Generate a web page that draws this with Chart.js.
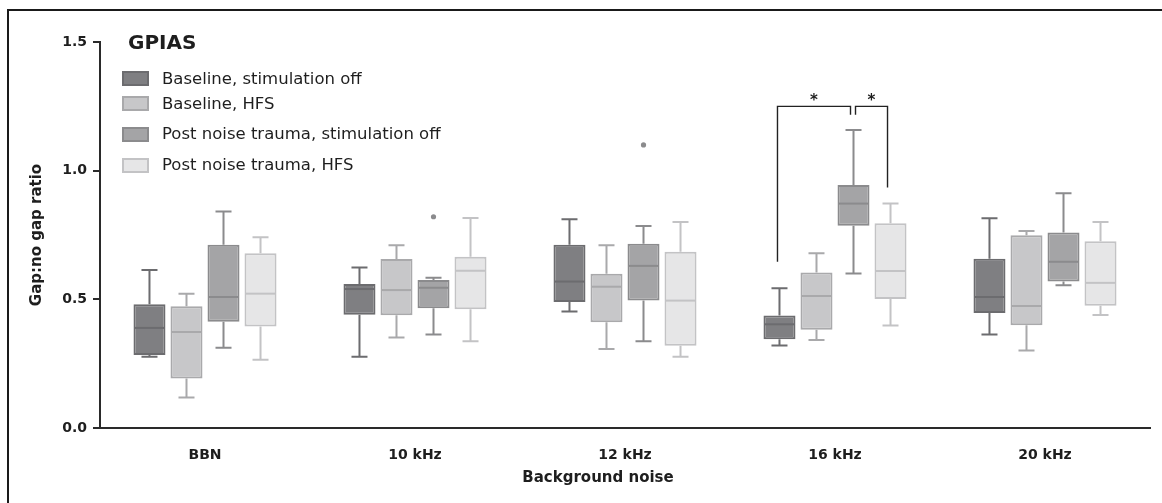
<!DOCTYPE html>
<html>
<head>
<meta charset="utf-8">
<script src="https://cdn.jsdelivr.net/npm/chart.js@4.4.0/dist/chart.umd.min.js"></script>
<style>
body { margin: 0; background: #fff; }
#wrap { position: relative; width: 1162px; height: 503px; overflow: hidden; font-family: "DejaVu Sans", sans-serif; color: #1e1e1e; }
#frame { position: absolute; left: 7px; top: 9px; width: 1200px; height: 600px; border-top: 2px solid #1a1a1a; border-left: 2px solid #1a1a1a; }
canvas { position: absolute; left: 0; top: 0; }
.ttl { position: absolute; left: 128px; top: 30px; font-size: 20px; font-weight: bold; line-height: 24px; }
.row { position: absolute; left: 122px; height: 20px; display: flex; align-items: center; font-size: 16.5px; line-height: 20px; white-space: nowrap; }
.sw { width: 23px; height: 11px; border: 2px solid; margin-right: 13px; }
#xt { position: absolute; left: 598px; top: 468px; transform: translateX(-50%); font-size: 15px; font-weight: bold; line-height: 18px; white-space: nowrap; }
</style>
</head>
<body>
<div id="wrap">
  <div id="frame"></div>
  <canvas id="chart" width="1162" height="503"></canvas>
  <div class="ttl">GPIAS</div>
  <div id="legend"></div>
  <div id="xt">Background noise</div>
</div>
<script>
// categories + series
var categories = ['BBN', '10 kHz', '12 kHz', '16 kHz', '20 kHz'];
var seriesNames = ['Baseline, stimulation off', 'Baseline, HFS', 'Post noise trauma, stimulation off', 'Post noise trauma, HFS'];
var fills = ['#7f7f82', '#c7c7c9', '#a4a4a6', '#e6e6e7'];
var lines = ['#6c6c6f', '#a9a9ab', '#8b8b8d', '#c3c3c5'];
var yTicks = [0, 0.5, 1.0, 1.5];

// one row per series, one value per category
var lowWhisker = [
  [0.277, 0.277, 0.453, 0.321, 0.363],
  [0.119, 0.352, 0.307, 0.342, 0.301],
  [0.312, 0.363, 0.337, 0.600, 0.555],
  [0.265, 0.337, 0.277, 0.398, 0.439]
];
var q1 = [
  [0.284, 0.440, 0.490, 0.345, 0.447],
  [0.192, 0.438, 0.411, 0.382, 0.399],
  [0.413, 0.465, 0.495, 0.786, 0.569],
  [0.394, 0.461, 0.320, 0.501, 0.475]
];
var median = [
  [0.389, 0.540, 0.569, 0.403, 0.509],
  [0.373, 0.536, 0.549, 0.513, 0.474],
  [0.509, 0.545, 0.630, 0.872, 0.646],
  [0.522, 0.611, 0.495, 0.610, 0.564]
];
var q3 = [
  [0.481, 0.560, 0.712, 0.437, 0.658],
  [0.473, 0.657, 0.599, 0.604, 0.749],
  [0.712, 0.575, 0.716, 0.944, 0.760],
  [0.679, 0.665, 0.685, 0.796, 0.726]
];
var highWhisker = [
  [0.614, 0.624, 0.811, 0.543, 0.815],
  [0.522, 0.710, 0.710, 0.679, 0.766],
  [0.841, 0.584, 0.785, 1.158, 0.912],
  [0.741, 0.816, 0.801, 0.872, 0.801]
];
// [series, category, value]
var outliers = [[2, 1, 0.821], [2, 2, 1.10]];
// significance at 16 kHz: series 0 vs 2 and 2 vs 3
var sigCategory = 3;
var sigBracketTop = 1.25, sigLegEnd = 1.217, sigLeftFoot = 0.646, sigRightFoot = 0.935;

// legend (html)
var leg = document.getElementById('legend');
var rowTops = [68.5, 93.5, 124, 155];
for (var s = 0; s < seriesNames.length; s++) {
  var r = document.createElement('div');
  r.className = 'row';
  r.style.top = rowTops[s] + 'px';
  r.innerHTML = '<div class="sw" style="background:' + fills[s] + ';border-color:' + lines[s] + '"></div>' + seriesNames[s];
  leg.appendChild(r);
}

var datasets = [];
for (var d = 0; d < seriesNames.length; d++) {
  var pairs = [];
  for (var c = 0; c < categories.length; c++) pairs.push([q1[d][c], q3[d][c]]);
  datasets.push({
    label: seriesNames[d],
    data: pairs,
    backgroundColor: fills[d],
    borderColor: lines[d],
    borderWidth: 2,
    borderSkipped: false,
    categoryPercentage: 0.705,
    barPercentage: 0.865
  });
}

var boxPlugin = {
  id: 'boxes',
  beforeDatasetsDraw: function (chart) {
    var ctx = chart.ctx, y = chart.scales.y;
    ctx.save();
    ctx.lineWidth = 2;
    for (var d = 0; d < datasets.length; d++) {
      var bars = chart.getDatasetMeta(d).data;
      ctx.strokeStyle = lines[d];
      for (var c = 0; c < bars.length; c++) {
        var x = bars[c].x, w = bars[c].width;
        ctx.beginPath();
        ctx.moveTo(x, y.getPixelForValue(highWhisker[d][c]));
        ctx.lineTo(x, y.getPixelForValue(q3[d][c]));
        ctx.moveTo(x, y.getPixelForValue(q1[d][c]));
        ctx.lineTo(x, y.getPixelForValue(lowWhisker[d][c]));
        ctx.moveTo(x - w / 4, y.getPixelForValue(highWhisker[d][c]));
        ctx.lineTo(x + w / 4, y.getPixelForValue(highWhisker[d][c]));
        ctx.moveTo(x - w / 4, y.getPixelForValue(lowWhisker[d][c]));
        ctx.lineTo(x + w / 4, y.getPixelForValue(lowWhisker[d][c]));
        ctx.stroke();
      }
    }
    ctx.restore();
  },
  afterDatasetsDraw: function (chart) {
    var ctx = chart.ctx, y = chart.scales.y;
    ctx.save();
    ctx.lineWidth = 2;
    for (var d = 0; d < datasets.length; d++) {
      var bars = chart.getDatasetMeta(d).data;
      ctx.strokeStyle = lines[d];
      for (var c = 0; c < bars.length; c++) {
        var x = bars[c].x, w = bars[c].width, my = y.getPixelForValue(median[d][c]);
        ctx.beginPath();
        ctx.moveTo(x - w / 2 + 1, my);
        ctx.lineTo(x + w / 2 - 1, my);
        ctx.stroke();
      }
    }
    outliers.forEach(function (o) {
      var b = chart.getDatasetMeta(o[0]).data[o[1]];
      ctx.fillStyle = lines[o[0]];
      ctx.beginPath();
      ctx.arc(b.x, y.getPixelForValue(o[2]), 2.6, 0, Math.PI * 2);
      ctx.fill();
    });

    // brackets + stars
    var xa = chart.getDatasetMeta(0).data[sigCategory].x - 2;
    var xb = chart.getDatasetMeta(2).data[sigCategory].x;
    var xc = chart.getDatasetMeta(3).data[sigCategory].x - 3;
    var top = y.getPixelForValue(sigBracketTop), leg = y.getPixelForValue(sigLegEnd);
    ctx.strokeStyle = '#222';
    ctx.lineWidth = 1.4;
    ctx.beginPath();
    ctx.moveTo(xa, y.getPixelForValue(sigLeftFoot));
    ctx.lineTo(xa, top); ctx.lineTo(xb - 3, top); ctx.lineTo(xb - 3, leg);
    ctx.moveTo(xb + 2, leg);
    ctx.lineTo(xb + 2, top); ctx.lineTo(xc, top); ctx.lineTo(xc, y.getPixelForValue(sigRightFoot));
    ctx.stroke();
    ctx.fillStyle = '#1e1e1e';
    ctx.font = 'bold 15px "DejaVu Sans"';
    ctx.textAlign = 'center';
    ctx.textBaseline = 'alphabetic';
    ctx.fillText('*', (xa + xb - 3) / 2, top - 1);
    ctx.fillText('*', (xb + 2 + xc) / 2, top - 1);
    ctx.restore();
  }
};

new Chart(document.getElementById('chart'), {
  type: 'bar',
  data: { labels: categories, datasets: datasets },
  options: {
    responsive: false,
    animation: false,
    layout: { padding: { top: 42, right: 12, bottom: 0, left: 0 } },
    plugins: { legend: { display: false }, tooltip: { enabled: false } },
    scales: {
      x: {
        afterFit: function (s) { s.height = 75; },
        grid: { display: false },
        border: { display: true, color: '#2a2a2a', width: 2 },
        ticks: { color: '#1e1e1e', padding: 11, font: { family: 'DejaVu Sans', size: 14, weight: 'bold' } }
      },
      y: {
        min: 0, max: 1.5,
        afterFit: function (s) { s.width = 100; },
        afterBuildTicks: function (s) { s.ticks = yTicks.map(function (v) { return { value: v }; }); },
        grid: { drawOnChartArea: false, drawTicks: true, tickLength: 7, color: '#2a2a2a', lineWidth: 2 },
        border: { display: true, color: '#2a2a2a', width: 2 },
        ticks: {
          color: '#1e1e1e', padding: 6,
          font: { family: 'DejaVu Sans', size: 14, weight: 'bold' },
          callback: function (v) { return v.toFixed(1); }
        },
        title: {
          display: true, text: 'Gap:no gap ratio', color: '#1e1e1e',
          padding: { top: 28, bottom: 0 },
          font: { family: 'DejaVu Sans', size: 15, weight: 'bold' }
        }
      }
    }
  },
  plugins: [boxPlugin]
});
</script>
</body>
</html>
